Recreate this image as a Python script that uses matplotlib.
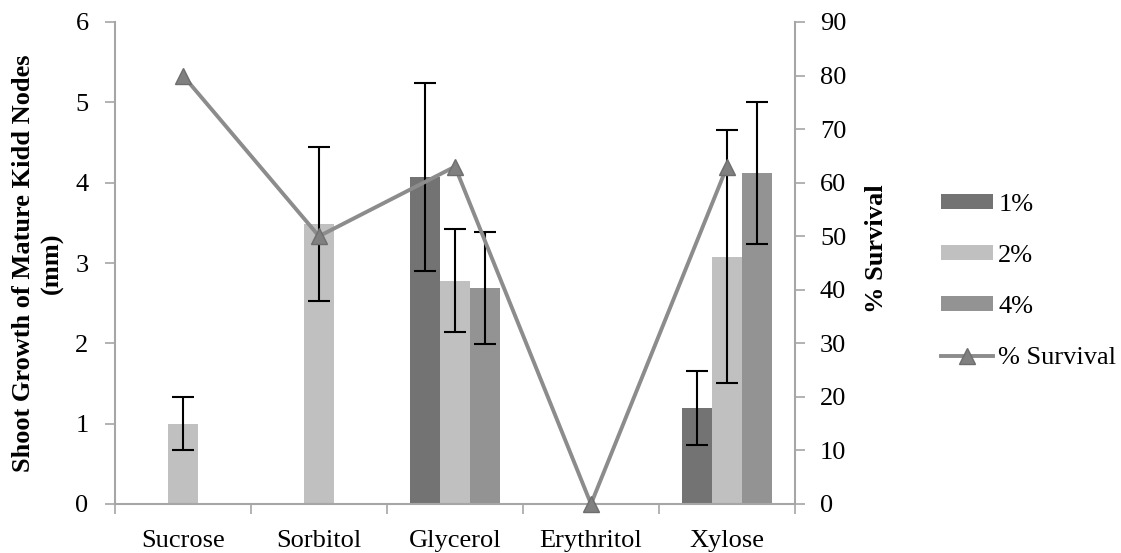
import matplotlib
matplotlib.use("Agg")
import matplotlib.pyplot as plt
import numpy as np

categories = ["Sucrose", "Sorbitol", "Glycerol", "Erythritol", "Xylose"]
series_names = ["1%", "2%", "4%"]
growth_1 = [0, 0, 4.07, 0, 1.19]
growth_2 = [1.0, 3.49, 2.78, 0, 3.08]
growth_4 = [0, 0, 2.69, 0, 4.12]
err_1 = [0, 0, 1.17, 0, 0.46]
err_2 = [0.33, 0.96, 0.64, 0, 1.57]
err_4 = [0, 0, 0.70, 0, 0.88]
survival = [80, 50, 63, 0, 63]

plt.rcParams['font.family'] = ['Liberation Serif', 'DejaVu Serif']
FS = 19

fig = plt.figure(figsize=(11.21, 5.53), dpi=100)
ax = fig.add_axes([115/1121, 49/553, 680/1121, 482/553])
ax2 = ax.twinx()

spine_c = '#a6a6a6'
colors = ['#737373', '#c0c0c0', '#939393']
x = np.arange(len(categories))
w = 0.22
series = [growth_1, growth_2, growth_4]
errs = [err_1, err_2, err_4]
handles = []
for k, (vals, e, c) in enumerate(zip(series, errs, colors)):
    xs = x + (k - 1) * w
    b = ax.bar(xs, vals, width=w, color=c, label=series_names[k], zorder=2)
    handles.append(b)
    mask = [v > 0 for v in vals]
    ax.errorbar(xs[mask], np.array(vals)[mask], yerr=np.array(e)[mask], fmt='none',
                ecolor='black', elinewidth=1.5, capsize=8, capthick=1.5, zorder=3)

ln, = ax2.plot(x, survival, color='#8c8c8c', lw=2.8, marker='^', markersize=12,
               markerfacecolor='#808080', markeredgecolor='#6e6e6e', markeredgewidth=1,
               clip_on=False, zorder=5, label='% Survival')

ax.set_xlim(-0.5, 4.5)
ax.set_ylim(0, 6)
ax2.set_ylim(0, 90)
ax.set_yticks(range(0, 7))
ax2.set_yticks(range(0, 91, 10))

ax.set_xticks(x)
ax.set_xticklabels(categories, fontsize=FS)
ax.set_xticks(np.arange(-0.5, 5.0, 1.0), minor=True)
ax.tick_params(axis='x', which='major', length=0, pad=19)
ax.tick_params(axis='x', which='minor', length=7, color=spine_c, width=1.2, direction='out')
ax.tick_params(axis='y', labelsize=FS, length=7, color=spine_c, width=1.2, pad=12)
ax2.tick_params(axis='y', labelsize=FS, length=7, color=spine_c, width=1.2, pad=11)

for a in (ax, ax2):
    a.spines['top'].set_visible(False)
    for s in ['left', 'right', 'bottom']:
        a.spines[s].set_color(spine_c)
        a.spines[s].set_linewidth(1.5)
ax.spines['right'].set_visible(False)
ax2.spines['left'].set_visible(False)
ax2.spines['bottom'].set_visible(False)

ax.set_ylabel("Shoot Growth of Mature Kidd Nodes\n(mm)", fontsize=FS, fontweight='bold',
              labelpad=8, linespacing=1.3)
ax2.set_ylabel("% Survival", fontsize=FS, fontweight='bold', labelpad=12)
ax2.yaxis.set_label_coords(1.103, 0.53)

fig.legend(handles + [ln], series_names + ['% Survival'], loc='upper left',
           bbox_to_anchor=(941/1121, 1 - 194/553), frameon=False, fontsize=FS,
           borderpad=0, borderaxespad=0, handlelength=1.97, handleheight=0.5,
           handletextpad=0.2, labelspacing=1.1)

fig.savefig("out.png", dpi=100)
